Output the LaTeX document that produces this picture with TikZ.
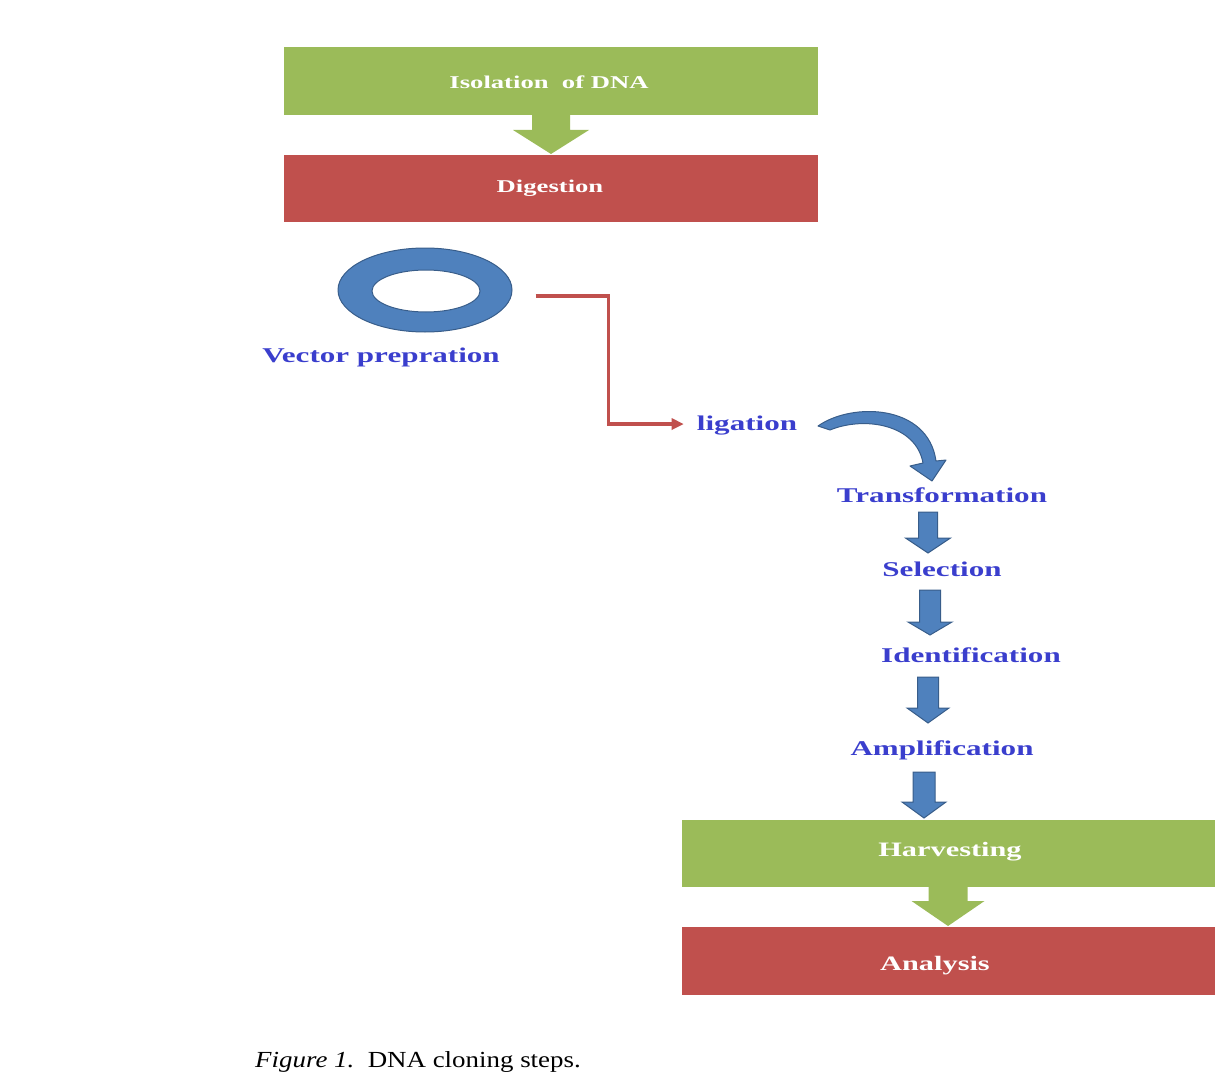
\documentclass[tikz,border=0pt]{standalone}
\usepackage{fontspec}
\setmainfont{Liberation Serif}
\usetikzlibrary{shapes.geometric,arrows.meta,calc}
\definecolor{boxgreen}{HTML}{9BBB59}
\definecolor{boxred}{HTML}{C0504D}
\definecolor{ringblue}{HTML}{4F81BD}
\definecolor{ringedge}{HTML}{385D8A}
\definecolor{labelblue}{RGB}{58,62,205}
\newcommand\wide[1]{\scalebox{1.48}[1]{#1}}
\newcommand\blockdown[7]{%
  \filldraw[#7] (#1-#5/2,#2) -- (#1+#5/2,#2) -- (#1+#5/2,#3) -- (#1+#6/2,#3)
    -- (#1,#4) -- (#1-#6/2,#3) -- (#1-#5/2,#3) -- cycle;}
\begin{document}
\begin{tikzpicture}[x=1pt,y=-1pt,
  stepbox/.style={rectangle, draw=none, inner sep=0pt, minimum width=534, minimum height=68},
  greenbox/.style={stepbox, fill=boxgreen},
  redbox/.style={stepbox, fill=boxred},
  whitetext/.style={anchor=base, inner sep=0pt, text=white, font=\fontsize{18}{18}\selectfont\bfseries},
  whitetextbig/.style={whitetext, font=\fontsize{20.5}{20.5}\selectfont\bfseries},
  bluetext/.style={anchor=base, inner sep=0pt, text=labelblue, font=\fontsize{21}{21}\selectfont\bfseries},
  greenarrow/.style={fill=boxgreen, draw=none},
  bluearrow/.style={fill=ringblue, draw=ringedge, line width=1pt, line join=miter},
  redline/.style={draw=boxred, line width=3.2pt, -{Triangle[length=12pt,width=11pt]}}
]
\useasboundingbox (0,0) rectangle (1220,1078);

% top boxes
\node[greenbox] (iso) at (551,81) {};
\node[redbox, minimum height=67] (dig) at (551,188.5) {};
\node[whitetext] (isot) at (549,89) {\wide{Isolation\ \ of DNA}};
\node[whitetext] (digt) at (550,193) {\wide{Digestion}};
\blockdown{551}{114}{130}{154}{38}{76}{greenarrow}

% vector ring
\node[ellipse, draw=ringedge, fill=ringblue, line width=1pt, minimum width=174, minimum height=84, inner sep=0pt] (ring) at (425,290) {};
\node[ellipse, draw=ringedge, fill=white, line width=1pt, minimum width=108, minimum height=42, inner sep=0pt] (hole) at (426,291) {};
\node[bluetext] (vec) at (381,362) {\wide{Vector prepration}};

% ligation
\node[bluetext] (lig) at (747,430) {\wide{ligation}};
\coordinate (redstart) at ([xshift=23pt, yshift=-6pt]ring.east);
\coordinate (redend) at ([xshift=-13pt, yshift=1pt]lig.west);
\draw[redline] (redstart) -- ++(73,0) |- (redend);

% curved arrow ligation -> transformation
\filldraw[bluearrow, line join=round]
  (818,426) .. controls (852,402) and (928,404) .. (936,461)
  -- (946,460) -- (932,481) -- (910,466) -- (923,463)
  .. controls (916,424) and (864,416) .. (830,430) -- cycle;

% steps
\node[bluetext] (trans) at (942,502) {\wide{Transformation}};
\blockdown{928}{512}{538}{553}{19}{45}{bluearrow}
\node[bluetext] (sel) at (942,576) {\wide{Selection}};
\blockdown{930}{590}{622}{635}{21}{44}{bluearrow}
\node[bluetext] (ident) at (971,662) {\wide{Identification}};
\blockdown{928}{677}{708}{723}{21}{42}{bluearrow}
\node[bluetext] (ampl) at (942,755) {\wide{Amplification}};
\blockdown{924}{772}{802}{818}{22}{44}{bluearrow}

% bottom boxes
\node[greenbox, minimum width=533, minimum height=67] (harv) at (948.5,853.5) {};
\node[redbox, minimum width=533] (anal) at (948.5,961) {};
\node[whitetextbig] (harvt) at (950,856) {\wide{Harvesting}};
\node[whitetextbig] (analt) at (935,970) {\wide{Analysis}};
\blockdown{948}{886}{901}{926}{39}{73}{greenarrow}

% caption
\node[anchor=base west, inner sep=0pt, font=\fontsize{23}{23}\selectfont] (cap) at (255,1067)
  {\scalebox{1.17}[1]{\textit{Figure 1.}\ \ DNA cloning steps.}};
\end{tikzpicture}
\end{document}
